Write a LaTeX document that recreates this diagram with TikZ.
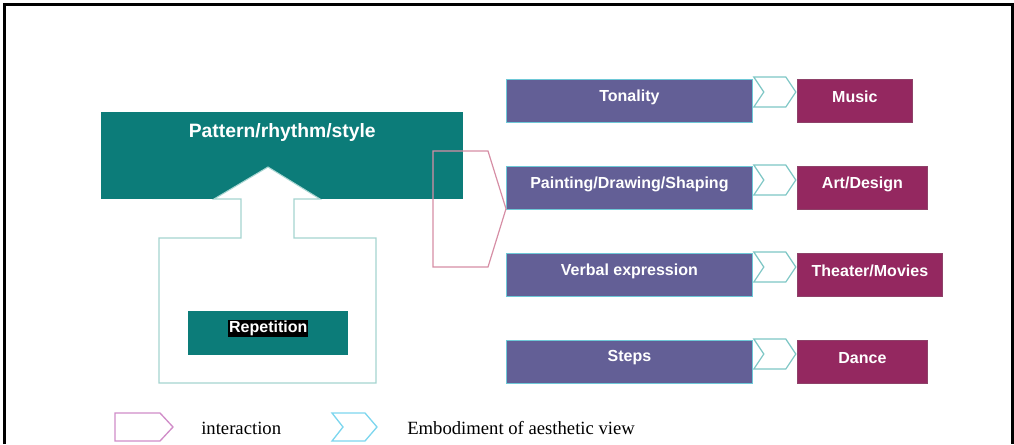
\documentclass[tikz,border=0pt]{standalone}
\usepackage{fontspec}
\setmainfont{Liberation Serif}
\setsansfont{Liberation Sans}
\usetikzlibrary{calc}
\definecolor{tealbox}{RGB}{12,124,121}
\definecolor{purplebox}{RGB}{99,95,150}
\definecolor{magbox}{RGB}{148,40,96}
\definecolor{arrowline}{RGB}{165,212,208}
\definecolor{pinkline}{RGB}{214,142,165}
\definecolor{chevline}{RGB}{125,198,196}
\definecolor{legcyan}{RGB}{125,214,238}
\definecolor{legpink}{RGB}{208,140,200}
\definecolor{pboxline}{RGB}{110,200,215}
\tikzset{
  boxtext/.style={font=\sffamily\bfseries\fontsize{12}{14}\selectfont, text=white},
  pbox/.style={fill=purplebox, draw=pboxline, line width=0.6pt, anchor=north west, inner sep=0, minimum width=246*0.75pt, minimum height=43*0.75pt},
  mbox/.style={fill=magbox, draw=magbox!70!gray, line width=0.6pt, anchor=north west, inner sep=0, minimum height=43*0.75pt},
  tbox/.style={fill=tealbox, anchor=north west, inner sep=0},
  lbl/.style={label={[boxtext, yshift=4*0.75pt]center:#1}},
  chevron/.pic={\draw[chevline, line width=0.9pt, line join=miter] (0,0) -- (32,0) -- (42,15) -- (32,30) -- (0,30) -- (10,15) -- cycle;},
  legtext/.style={font=\fontsize{14}{16}\selectfont, anchor=base west, inner sep=0},
}
\begin{document}
\begin{tikzpicture}[x=0.75pt, y=-0.75pt]
\useasboundingbox (0,0) rectangle (1014,444);
% frame
\draw[line width=2pt] (4.7,444) -- (4.7,4.7) -- (1012.7,4.7) -- (1012.7,444);

% left part
\node[tbox, minimum width=362*0.75pt, minimum height=87*0.75pt,
      label={[boxtext, font=\sffamily\bfseries\fontsize{14.5}{16}\selectfont, yshift=23.5*0.75pt]center:Pattern/rhythm/style}] (pattern) at (101,112) {};
\draw[arrowline, fill=white, line width=0.8pt] (159,383) -- (159,238) -- (241,238) -- (241,199) -- (214,199) -- (268,167) -- (320,199) -- (294,199) -- (294,238) -- (376,238) -- (376,383) -- cycle;
\node[tbox, minimum width=160*0.75pt, minimum height=44*0.75pt,
      label={[boxtext, fill=black, inner sep=0.6pt, yshift=5*0.75pt]center:Repetition}] (rep) at (188,311) {};

% purple boxes
\node[pbox, lbl=Tonality] (ton) at (506,79) {};
\node[pbox, lbl=Painting/Drawing/Shaping] (paint) at (506,166) {};
\node[pbox, lbl=Verbal expression] (verb) at (506,253) {};
\node[pbox, lbl=Steps] (steps) at (506,340) {};

% magenta boxes
\node[mbox, minimum width=115*0.75pt, lbl=Music] (music) at (797,79) {};
\node[mbox, minimum width=130*0.75pt, lbl=Art/Design] (art) at (797,166) {};
\node[mbox, minimum width=145*0.75pt, lbl=Theater/Movies] (theater) at (797,253) {};
\node[mbox, minimum width=130*0.75pt, lbl=Dance] (dance) at (797,340) {};

% embodiment chevrons
\pic at ($(ton.north east)+(1,-2)$) {chevron};
\pic at ($(paint.north east)+(1,-1)$) {chevron};
\pic at ($(verb.north east)+(1,-1)$) {chevron};
\pic at ($(steps.north east)+(1,-1)$) {chevron};

% interaction pentagon
\coordinate (tip) at ($(paint.south west)+(0,-1)$);
\draw[pinkline, line width=0.9pt] (433,151) -- (488,151) -- (tip) -- (488,267) -- (433,267) -- cycle;

% legend
\draw[legpink, line width=1pt] (115,413) -- (160,413) -- (173,427) -- (160,441) -- (115,441) -- cycle;
\node[legtext] (inter) at (201,434) {interaction};
\draw[legcyan, line width=1pt] (332,413) -- (365,413) -- (377,427) -- (365,441) -- (332,441) -- (343,427) -- cycle;
\node[legtext] (emb) at (407,434) {Embodiment of aesthetic view};
\end{tikzpicture}
\end{document}
